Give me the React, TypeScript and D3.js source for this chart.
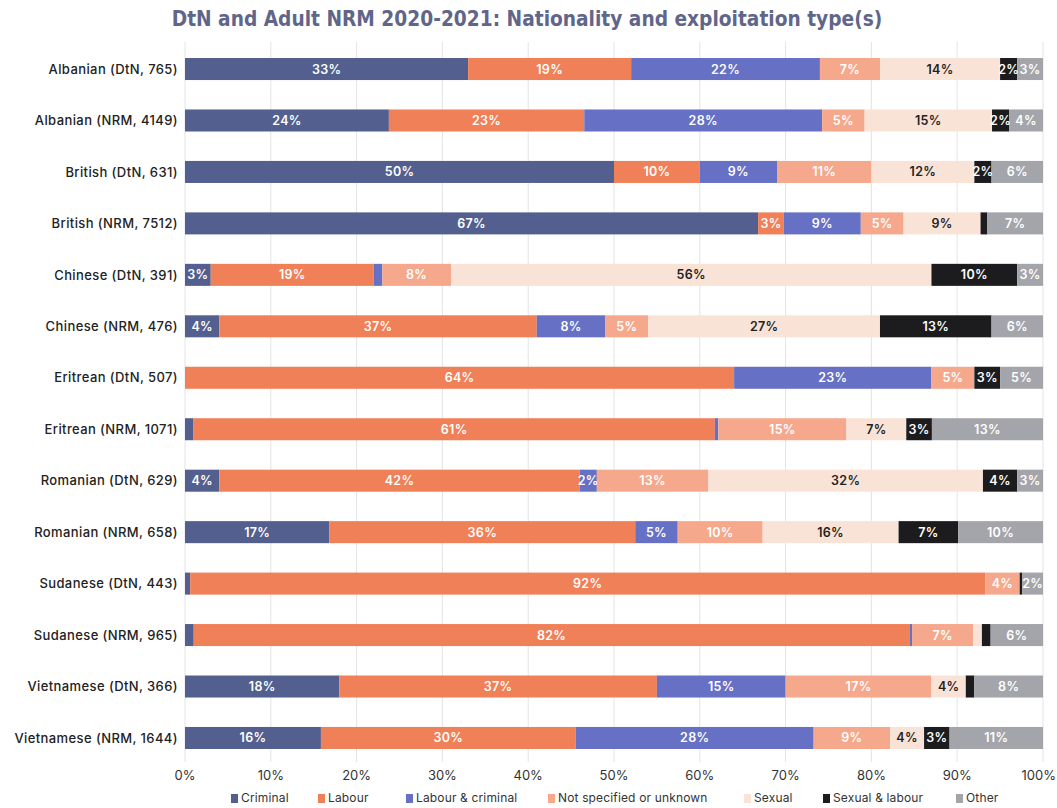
import React from "react";
import * as d3 from "d3";

const categories = [
  "Albanian (DtN, 765)",
  "Albanian (NRM, 4149)",
  "British (DtN, 631)",
  "British (NRM, 7512)",
  "Chinese (DtN, 391)",
  "Chinese (NRM, 476)",
  "Eritrean (DtN, 507)",
  "Eritrean (NRM, 1071)",
  "Romanian (DtN, 629)",
  "Romanian (NRM, 658)",
  "Sudanese (DtN, 443)",
  "Sudanese (NRM, 965)",
  "Vietnamese (DtN, 366)",
  "Vietnamese (NRM, 1644)",
];

const seriesNames = [
  "Criminal",
  "Labour",
  "Labour & criminal",
  "Not specified or unknown",
  "Sexual",
  "Sexual & labour",
  "Other",
];

const criminal = [33, 24, 50, 67, 3, 4, 0, 1, 4, 17, 0.6, 1, 18, 16];
const labour = [19, 23, 10, 3, 19, 37, 64, 61, 42, 36, 92, 82, 37, 30];
const labourCriminal = [22, 28, 9, 9, 1, 8, 23, 0.4, 2, 5, 0, 0.3, 15, 28];
const notSpecified = [7, 5, 11, 5, 8, 5, 5, 15, 13, 10, 4, 7, 17, 9];
const sexual = [14, 15, 12, 9, 56, 27, 0, 7, 32, 16, 0, 1, 4, 4];
const sexualLabour = [2, 2, 2, 0.8, 10, 13, 3, 3, 4, 7, 0.3, 1, 1, 3];
const other = [3, 4, 6, 6.5, 3, 6, 5, 13, 3, 10, 2.4, 6, 8, 11];

const xTicks = [0, 0.1, 0.2, 0.3, 0.4, 0.5, 0.6, 0.7, 0.8, 0.9, 1];

const colors = ["#535f8e", "#f08058", "#6670c4", "#f5a88b", "#f9e3d7", "#1c1c1e", "#a4a4ab"];
const labelColors = ["#ffffff", "#ffffff", "#ffffff", "#ffffff", "#222222", "#ffffff", "#ffffff"];

const FONT = "Inter, 'Noto Sans', sans-serif";

export default function App() {
  const width = 1057;
  const height = 808;
  const left = 185;
  const right = 1043;

  const seriesValues = [criminal, labour, labourCriminal, notSpecified, sexual, sexualLabour, other];
  const rows = categories.map((c, i) => {
    const r: any = { cat: c };
    seriesNames.forEach((s, j) => (r[s] = seriesValues[j][i]));
    return r;
  });

  const stack = d3.stack<any>().keys(seriesNames).offset(d3.stackOffsetExpand);
  const stacked = stack(rows);

  const x = d3.scaleLinear().domain([0, 1]).range([left, right]);
  const y = d3
    .scaleBand()
    .domain(categories)
    .range([43.3, 763.7])
    .paddingInner(0.572)
    .paddingOuter(0.286);
  const fmt = d3.format(".0%");

  const legendX = [231, 318, 406, 548, 744, 823, 956];

  return (
    <svg width={width} height={height} style={{ position: "absolute", left: 0, top: 0 }}>
      <rect width={width} height={height} fill="#ffffff" />
      <text
        x={527}
        y={26}
        textAnchor="middle"
        fontFamily="'Liberation Sans Narrow', 'DejaVu Sans Condensed', sans-serif"
        fontSize={20.7}
        fontWeight={700}
        fill="#60658a"
      >
        DtN and Adult NRM 2020-2021: Nationality and exploitation type(s)
      </text>
      {xTicks.map((t) => (
        <line key={t} x1={x(t)} x2={x(t)} y1={42} y2={762} stroke="#e4e4e6" strokeWidth={1} />
      ))}
      {stacked.map((s, si) =>
        s.map((d, i) => (
          <rect
            key={si + "-" + i}
            x={x(d[0])}
            y={y(categories[i])}
            width={Math.max(0, x(d[1]) - x(d[0]))}
            height={y.bandwidth()}
            fill={colors[si]}
          />
        ))
      )}
      {stacked.map((s, si) =>
        s.map((d, i) => {
          const raw = seriesValues[si][i];
          if (raw < 2) return null;
          const cx = (x(d[0]) + x(d[1])) / 2;
          return (
            <text
              key={"l" + si + "-" + i}
              x={cx}
              y={(y(categories[i]) as number) + y.bandwidth() / 2}
              dy="0.36em"
              textAnchor="middle"
              fontFamily={FONT}
              fontSize={12.5}
              fontWeight={600}
              letterSpacing={0.3}
              fill={labelColors[si]}
            >
              {Math.round(raw) + "%"}
            </text>
          );
        })
      )}
      {categories.map((c) => (
        <text
          key={c}
          x={178}
          y={(y(c) as number) + y.bandwidth() / 2}
          dy="0.36em"
          textAnchor="end"
          fontFamily={FONT}
          fontSize={13}
          fontWeight={500}
          letterSpacing={0.4}
          fill="#222222"
        >
          {c}
        </text>
      ))}
      {xTicks.map((t, i) => {
        const last = i === xTicks.length - 1;
        return (
          <text
            key={"t" + t}
            x={last ? 1056 : x(t)}
            y={780}
            textAnchor={last ? "end" : "middle"}
            fontFamily={FONT}
            fontSize={13}
            fill="#333333"
          >
            {fmt(t)}
          </text>
        );
      })}
      {seriesNames.map((s, i) => (
        <g key={"lg" + s} transform={`translate(${legendX[i]},798)`}>
          <rect x={0} y={-4} width={7} height={9} fill={colors[i]} />
          <text x={10} y={0} dy="0.36em" fontFamily={FONT} fontSize={12} letterSpacing={0.15} fill="#333333">
            {s}
          </text>
        </g>
      ))}
    </svg>
  );
}
